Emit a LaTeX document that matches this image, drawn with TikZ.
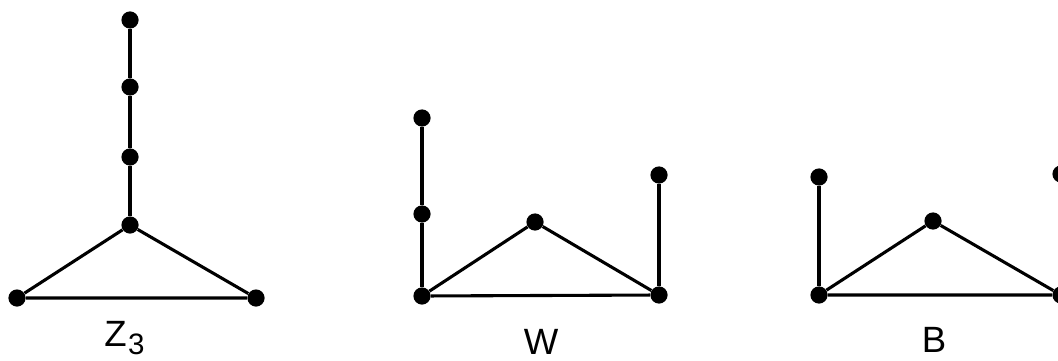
\documentclass[tikz,border=0pt]{standalone}
\usepackage{fontspec}
\setmainfont{Liberation Sans}
\usetikzlibrary{positioning}
\tikzset{
    vert/.style={circle, fill=black, inner sep=0pt, minimum size=0.43cm},
    edge/.style={line width=2.2pt},
    lbl/.style={anchor=base, inner sep=0pt, font=\fontsize{26}{30}\selectfont},
}

\begin{document}
\begin{tikzpicture}[x=0.025cm, y=-0.025cm]
\useasboundingbox (0,0) rectangle (1058,361);
% Z_3
\node[vert] (za) at (130,20) {};
\node[vert] (zb) at (130,87) {};
\node[vert] (zc) at (130,157) {};
\node[vert] (zd) at (130,225) {};
\node[vert] (zl) at (17,298) {};
\node[vert] (zr) at (256,298) {};
\draw[edge] (za) -- (zb) -- (zc) -- (zd);
\draw[edge] (zd) -- (zl) -- (zr) -- (zd);
\node[lbl, anchor=base west] (zlab) at (104,346) {Z\kern1pt{\fontsize{21}{25}\selectfont\raisebox{-0.2cm}{3}}};
% W
\node[vert] (wa) at (422,118) {};
\node[vert] (wb) at (422,214) {};
\node[vert] (wl) at (422,296) {};
\node[vert] (wt) at (535,222) {};
\node[vert] (wr) at (659,295) {};
\node[vert] (wc) at (659,175) {};
\draw[edge] (wa) -- (wb) -- (wl);
\draw[edge] (wl) -- (wt) -- (wr) -- (wl);
\draw[edge] (wr) -- (wc);
\node[lbl] (wlab) at (541,354) {W};
% B
\node[vert] (ba) at (819,177) {};
\node[vert] (bl) at (819,295) {};
\node[vert] (bt) at (933,221) {};
\node[vert] (br) at (1061,295) {};
\node[vert] (bc) at (1061,174) {};
\draw[edge] (ba) -- (bl);
\draw[edge] (bl) -- (bt) -- (br) -- (bl);
\draw[edge] (br) -- (bc);
\node[lbl] (blab) at (934,352) {B};
\end{tikzpicture}
\end{document}
